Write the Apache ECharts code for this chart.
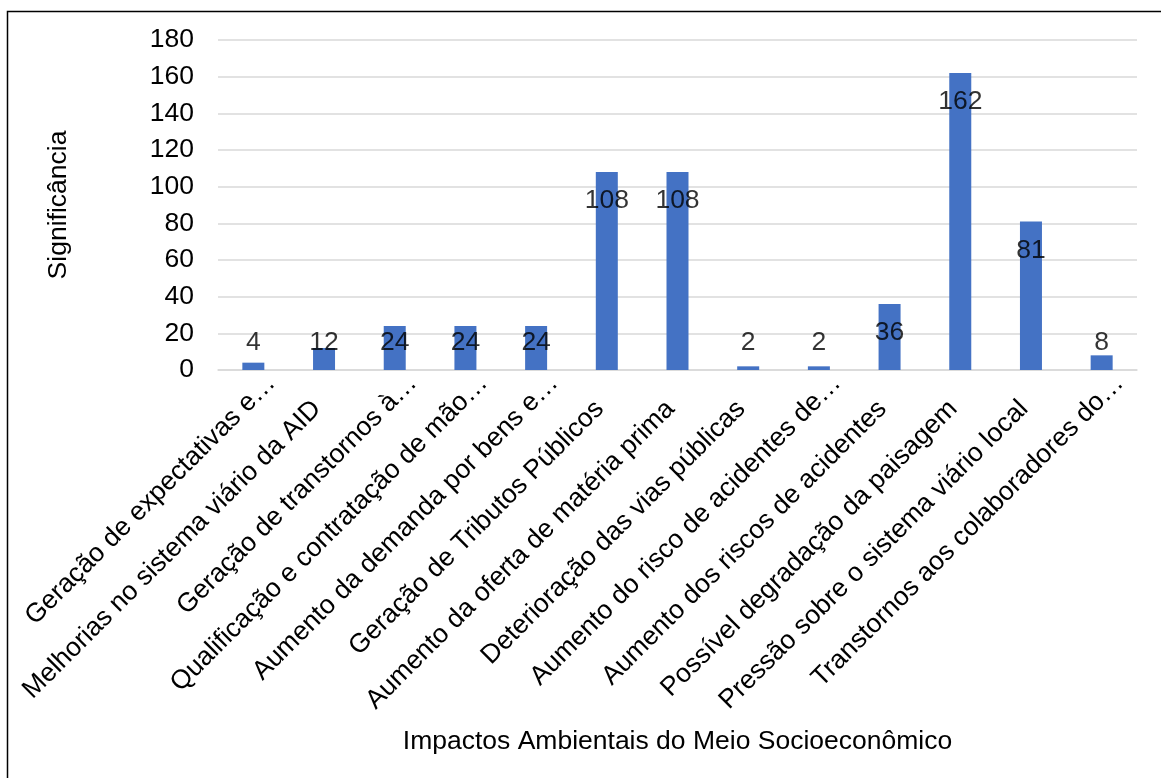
<!DOCTYPE html>
<html>
<head>
<meta charset="utf-8">
<script src="https://cdn.jsdelivr.net/npm/echarts@6/dist/echarts.min.js"></script>
<style>
html,body{margin:0;padding:0;background:#fff;}
#chart{width:1161px;height:778px;}
</style>
</head>
<body>
<div id="chart"></div>
<script>
const categories = [
  "Geração de expectativas e…",
  "Melhorias no sistema viário da AID",
  "Geração de transtornos à…",
  "Qualificação e contratação de mão…",
  "Aumento da demanda por bens e…",
  "Geração de Tributos Públicos",
  "Aumento da oferta de matéria prima",
  "Deterioração das vias públicas",
  "Aumento do risco de acidentes de…",
  "Aumento dos riscos de acidentes",
  "Possível degradação da paisagem",
  "Pressão sobre o sistema viário local",
  "Transtornos aos colaboradores do…"
];
const values = [4, 12, 24, 24, 24, 108, 108, 2, 2, 36, 162, 81, 8];
const yTicks = { min: 0, max: 180, interval: 20 };

// label anchor: inside the bar top, but never lower than just above the axis
const labelPoints = values.map((v, i) => [i, Math.max(v - 15.8, 14.7), v]);

const font = "Liberation Sans, Arial, sans-serif";
const fs = 26.5;
const chart = echarts.init(document.getElementById('chart'));
chart.setOption({
  animation: false,
  backgroundColor: '#ffffff',
  graphic: [{
    type: 'rect',
    shape: { x: 7.5, y: 11.5, width: 1200, height: 800 },
    style: { fill: 'none', stroke: '#000000', lineWidth: 1.5 },
    silent: true, z: 100
  }],
  grid: { left: 218, right: 24, top: 40, bottom: 408, containLabel: false },
  xAxis: {
    type: 'category',
    data: categories,
    axisLine: { show: true, lineStyle: { color: '#d9d9d9', width: 1.5 } },
    axisTick: { show: false },
    axisLabel: {
      rotate: 45, interval: 0, margin: -9,
      fontFamily: font, fontSize: fs, color: '#000000',
      formatter: v => v.endsWith('…') ? '{t|' + v + '}' : '{n|' + v + '}',
      rich: {
        t: { padding: [51, 0, 0, 0], fontFamily: font, fontSize: fs, color: '#000000' },
        n: { padding: [52, 36, 0, 0], fontFamily: font, fontSize: fs, color: '#000000' }
      }
    },
    name: 'Impactos Ambientais do Meio Socioeconômico',
    nameLocation: 'middle', nameGap: 358,
    nameTextStyle: { fontFamily: font, fontSize: fs, color: '#000000' }
  },
  yAxis: {
    type: 'value',
    min: yTicks.min, max: yTicks.max, interval: yTicks.interval,
    axisLine: { show: false },
    axisTick: { show: false },
    splitLine: { lineStyle: { color: '#d9d9d9', width: 1.5 } },
    axisLabel: { margin: 24, fontFamily: font, fontSize: fs, color: '#000000' },
    name: 'Significância',
    nameLocation: 'middle', nameGap: 146,
    nameTextStyle: { fontFamily: font, fontSize: fs, color: '#000000' }
  },
  series: [
    {
      type: 'bar',
      data: values,
      barWidth: 22,
      itemStyle: { color: '#4472C4' }
    },
    {
      type: 'scatter',
      data: labelPoints,
      symbolSize: 0,
      silent: true,
      z: 10,
      label: {
        show: true, position: 'inside',
        formatter: p => String(p.data[2]),
        fontFamily: font, fontSize: fs, color: '#000000'
      }
    }
  ]
});
</script>
</body>
</html>
